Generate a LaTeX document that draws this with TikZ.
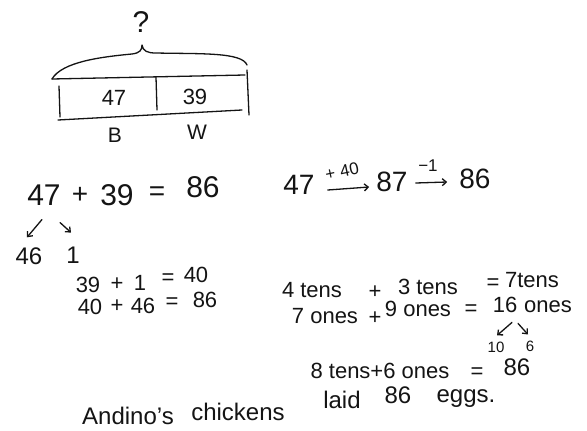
\documentclass[tikz,border=0pt]{standalone}
\usepackage{fontspec}
\setmainfont{Liberation Sans}
\usetikzlibrary{arrows.meta}
\definecolor{ink}{rgb}{0.08,0.08,0.08}
\tikzset{
  pen/.style={draw=ink, line width=1.3pt, line cap=round, line join=round},
  arr/.style={pen, -{Straight Barb[length=4pt,width=7pt]}},
  txt/.style={inner sep=0pt, text=ink},
  fa/.style={txt, font=\fontsize{30}{30}\selectfont},
  fb/.style={txt, font=\fontsize{28}{28}\selectfont},
  fc/.style={txt, font=\fontsize{24}{24}\selectfont},
  fd/.style={txt, font=\fontsize{22}{22}\selectfont},
  fe/.style={txt, font=\fontsize{21}{21}\selectfont},
  ff/.style={txt, font=\fontsize{17}{17}\selectfont},
  fg/.style={txt, font=\fontsize{15}{15}\selectfont},
  bl/.style={anchor=base},
}
\begin{document}
\begin{tikzpicture}[x=1pt,y=-1pt]
\useasboundingbox[fill=white] (0,0) rectangle (587,431);

% ---------- tape diagram ----------
\node[fa] (q) at (141,22) {?};
\draw[pen] (52,79) .. controls (62,62) and (100,57) .. (132,54)
           .. controls (140,53) and (142,50) .. (142,45)
           .. controls (143,51) and (147,53) .. (156,53)
           .. controls (200,54) and (242,52) .. (247,65);
\draw[pen] (52,79) -- (245,75);
\draw[pen] (59,86) -- (60,117);
\draw[pen] (58,120) -- (242,110);
\draw[pen] (247,70) -- (249,115);
\draw[pen] (156,77) -- (157,110);
\node[fd] (b47) at (114,98) {47};
\node[fd] (b39) at (195,97) {39};
\node[fe] (lB) at (115,135) {B};
\node[fe] (lW) at (197,132) {W};

% ---------- left strategy ----------
\node[fa] (e47) at (44,195) {47};
\node[fb] (eplus) at (80,195) {+};
\node[fa] (e39) at (117,195) {39};
\node[fb] (eeq) at (157,194) {=};
\node[fa] (e86) at (203,187) {86};

\node[fc] (t46) at (29,256) {46};
\node[fc] (t1) at (73,255) {1};
\draw[arr] ([shift={(-2,14)}]e47.south) -- ([shift={(-2,-10)}]t46.north);
\draw[arr] ([shift={(16,17)}]e47.south) -- ([shift={(-2,-14)}]t1.north);

\node[fd] (s39) at (88,285) {39};
\node[fd] (splus) at (117,284) {+};
\node[fd] (s1) at (140,283) {1};
\node[fd] (seq) at (168,279) {=};
\node[fd] (s40) at (196,275) {40};

\node[fd] (u40) at (90,307) {40};
\node[fd] (uplus) at (117,306) {+};
\node[fd] (u46) at (143,306) {46};
\node[fd] (ueq) at (172,303) {=};
\node[fd] (u86) at (205,300) {86};

% ---------- right strategy: number line arrows ----------
\node[fb] (r47) at (299,185) {47};
\node[fb] (r87) at (392,182) {87};
\node[fb] (r86) at (475,179) {86};
\draw[arr] ([shift={(13,5)}]r47.east) -- ([shift={(-7,5)}]r87.west);
\draw[arr] ([shift={(8,1)}]r87.east) -- ([shift={(-12,3)}]r86.west);
\node[ff, rotate=12] (rlab1) at (342,171) {+\hspace{5pt}40};
\node[ff] (rlab2) at (428,166) {−1};

% ---------- place value ----------
\node[fd, bl] (a4) at (312,297) {4 tens};
\node[fd] (aplus) at (375,292) {+};
\node[fd, bl] (a3) at (428,294) {3 tens};
\node[fd] (aeq) at (493,284) {=};
\node[fd, bl] (a7) at (532,287) {7tens};

\node[fd, bl] (o7) at (325,323) {7 ones};
\node[fd] (oplus) at (375,318) {+};
\node[fd, bl] (o9) at (418,316) {9 ones};
\node[fd] (oeq) at (471,310) {=};
\node[fd, bl] (o16) at (505,312) {16};
\node[fd, bl] (oones) at (548,312) {ones};

\node[fg] (p10) at (496,347) {10};
\node[fg] (p6) at (530,346) {6};
\draw[arr] ([shift={(7,10)}]o16.south) -- ([shift={(1,-6)}]p10.north);
\draw[arr] ([shift={(13,11)}]o16.south) -- ([shift={(-2,-6)}]p6.north);

\node[fd, bl] (h8) at (380,378) {8 tens+6 ones};
\node[fd] (heq) at (477,373) {=};
\node[fc] (h86) at (517,367) {86};

% ---------- answer ----------
\node[fc, bl] (fA) at (128,424) {Andino's};
\node[fc, bl] (fC) at (238,420) {chickens};
\node[fc, bl] (fL) at (342,408) {laid};
\node[fc] (f86) at (398,395) {86};
\node[fc, bl] (fE) at (466,402) {eggs.};
\end{tikzpicture}
\end{document}
